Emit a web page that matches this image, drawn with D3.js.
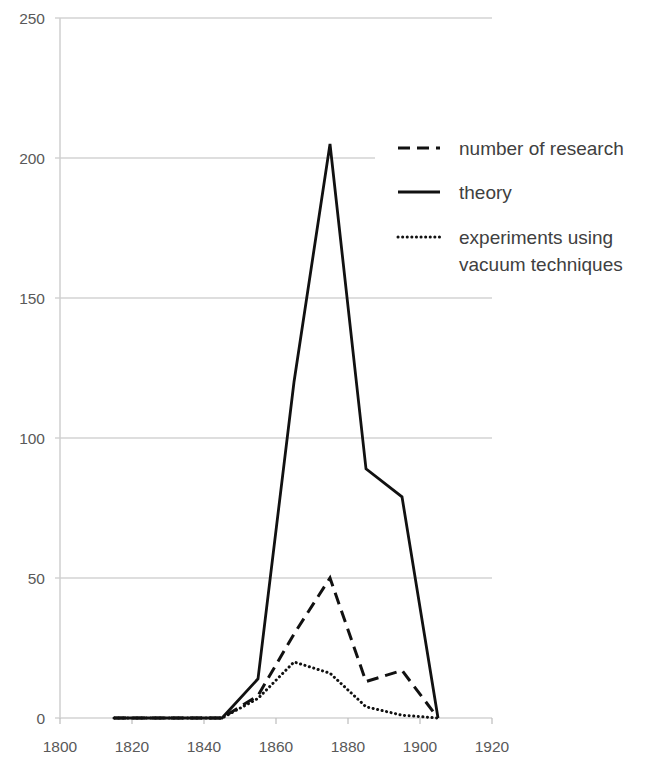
<!DOCTYPE html>
<html><head><meta charset="utf-8">
<script src="https://cdn.jsdelivr.net/npm/d3@7"></script>
<style>body{margin:0;background:#fff}svg{display:block}</style>
</head><body>
<script>
const years = [1815, 1825, 1835, 1845, 1855, 1865, 1875, 1885, 1895, 1905];
const research = [0, 0, 0, 0, 8, 30, 50, 13, 17, 0];
const theory = [0, 0, 0, 0, 14, 120, 205, 89, 79, 0];
const vacuum = [0, 0, 0, 0, 7, 20, 16, 4, 1, 0];
const xTicks = [1800, 1820, 1840, 1860, 1880, 1900, 1920];
const yTicks = [0, 50, 100, 150, 200, 250];
const seriesNames = ["number of research", "theory", "experiments using|vacuum techniques"];

const W = 649, H = 760;
const svg = d3.select("body").append("svg").attr("width", W).attr("height", H);
const x = d3.scaleLinear().domain([1800, 1920]).range([60, 492]);
const y = d3.scaleLinear().domain([0, 250]).range([718, 18]);
const font = "'Liberation Sans', Arial, sans-serif";

// gridlines
svg.append("g").selectAll("line").data(yTicks).join("line")
  .attr("x1", 55).attr("x2", 492)
  .attr("y1", d => y(d)).attr("y2", d => y(d))
  .attr("stroke", "#bdbdbd").attr("stroke-width", 1.2);
// y axis line
svg.append("line").attr("x1", 60).attr("x2", 60).attr("y1", y(250)).attr("y2", y(0))
  .attr("stroke", "#cfcfcf").attr("stroke-width", 1.5);
// y labels
svg.append("g").selectAll("text").data(yTicks).join("text")
  .attr("x", 45).attr("y", d => y(d) + 5.5).attr("text-anchor", "end")
  .attr("font-family", font).attr("font-size", 15.5).attr("fill", "#595959")
  .text(d => d);
// x ticks
svg.append("g").selectAll("line").data(xTicks).join("line")
  .attr("x1", d => x(d)).attr("x2", d => x(d)).attr("y1", 718).attr("y2", 724)
  .attr("stroke", "#bdbdbd").attr("stroke-width", 1.2);
svg.append("g").selectAll("text").data(xTicks).join("text")
  .attr("x", d => x(d)).attr("y", 752).attr("text-anchor", "middle")
  .attr("font-family", font).attr("font-size", 15.5).attr("fill", "#595959")
  .text(d => d);

const line = d3.line().x(d => x(d[0])).y(d => y(d[1]));
const styles = [
  {data: research, dash: "12,7", cap: "butt", w: 3},
  {data: theory, dash: null, cap: "butt", w: 2.8},
  {data: vacuum, dash: "0.1,4.5", cap: "round", w: 3}
];
[2, 0, 1].forEach(i => {
  const s = styles[i];
  svg.append("path").datum(years.map((yr, k) => [yr, s.data[k]]))
    .attr("d", line).attr("fill", "none").attr("stroke", "#111")
    .attr("stroke-width", s.w).attr("stroke-linejoin", "miter")
    .attr("stroke-linecap", s.cap)
    .attr("stroke-dasharray", s.dash);
});

// legend
const lg = svg.append("g");
lg.append("rect").attr("x", 375).attr("y", 125).attr("width", 274).attr("height", 160).attr("fill", "#fff");
const legY = [148, 192, 237];
seriesNames.forEach((name, i) => {
  const s = styles[i];
  lg.append("line").attr("x1", 398).attr("x2", 440).attr("y1", legY[i]).attr("y2", legY[i])
    .attr("stroke", "#111").attr("stroke-width", s.w).attr("stroke-linecap", s.cap)
    .attr("stroke-dasharray", s.dash);
  const parts = name.split("|");
  const t = lg.append("text").attr("x", 459).attr("y", legY[i] + 7)
    .attr("font-family", font).attr("font-size", 19).attr("fill", "#404040");
  parts.forEach((p, j) => t.append("tspan").attr("x", 459).attr("dy", j === 0 ? 0 : 27).text(p));
});
</script>
</body></html>
